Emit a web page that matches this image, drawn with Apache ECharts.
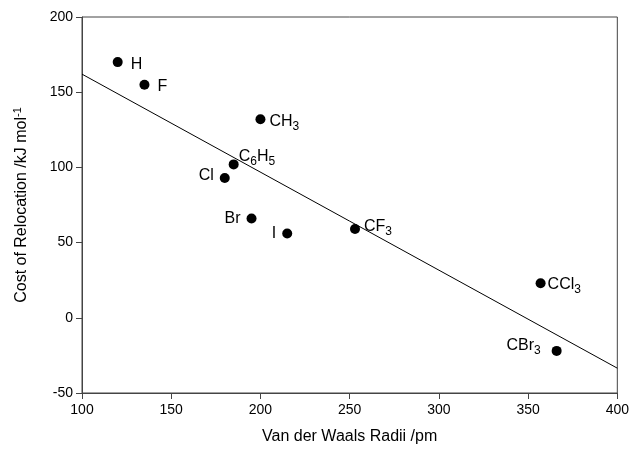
<!DOCTYPE html>
<html><head><meta charset="utf-8">
<script src="https://cdn.jsdelivr.net/npm/echarts@6/dist/echarts.min.js"></script>
<style>html,body{margin:0;padding:0;background:#fff}#c{width:632px;height:450px}</style>
</head><body><div id="c"></div>
<script>
var groups = ['H','F','CH3','C6H5','Cl','Br','I','CF3','CCl3','CBr3'];
var groupLabels = ['H','F','CH{s|3}','C{s|6}H{s|5}','Cl','Br','I','CF{s|3}','CCl{s|3}','CBr{s|3}'];
var radii = [120,135,200,185,180,195,215,253,357,366];
var costs = [170,155,132,102,93,66,56,59,23,-22];
var fitX = [100,400];
var fitY = [162,-33.5];
var xTicks = [100,150,200,250,300,350,400];
var yTicks = [-50,0,50,100,150,200];

var labelPos = {
  'H':['right',[3,2]], 'F':['right',[3,2]], 'CH3':['right',[-1,2]], 'C6H5':['right',[-5,-8]],
  'Cl':['left',[-1,-2]], 'Br':['left',[-1,0]], 'I':['left',[-1,0]], 'CF3':['right',[-1,-2]],
  'CCl3':['right',[-3,1]], 'CBr3':['left',[-6,-5]]
};
var font = 'Liberation Sans, Arial, sans-serif';
var rich = {s:{fontSize:12,fontFamily:font,color:'#000',padding:[10,0,0,0]}};
var data = groups.map(function(g,i){
  return {value:[radii[i],costs[i]], name:g,
    label:{show:true, position:labelPos[g][0], offset:labelPos[g][1],
      formatter:groupLabels[i], fontSize:16, fontFamily:font, color:'#000', rich:rich}};
});
var chart = echarts.init(document.getElementById('c'));
chart.setOption({
  animation:false,
  grid:{left:82,right:12,top:17,bottom:57,show:true,borderColor:'#444',borderWidth:1,backgroundColor:'transparent'},
  xAxis:{type:'value',min:xTicks[0],max:xTicks[xTicks.length-1],interval:50,
    name:'Van der Waals Radii /pm',nameLocation:'middle',nameGap:36,
    nameTextStyle:{fontSize:16,fontFamily:font,color:'#000'},
    axisLine:{onZero:false,lineStyle:{color:'#444'}},axisTick:{length:6,lineStyle:{color:'#444'}},
    axisLabel:{fontSize:14,fontFamily:font,color:'#000',margin:10},splitLine:{show:false}},
  yAxis:{type:'value',min:yTicks[0],max:yTicks[yTicks.length-1],interval:50,
    name:'Cost of Relocation /kJ mol{sup|-1}',nameLocation:'middle',nameGap:51,
    nameTextStyle:{fontSize:16,fontFamily:font,color:'#000',
      rich:{sup:{fontSize:11,fontFamily:font,color:'#000',padding:[0,0,8,0]}}},
    axisLine:{onZero:false,lineStyle:{color:'#444'}},axisTick:{length:6,lineStyle:{color:'#444'}},
    axisLabel:{fontSize:14,fontFamily:font,color:'#000',margin:9},splitLine:{show:false}},
  series:[
    {type:'line',data:fitX.map(function(x,i){return [x,fitY[i]];}),showSymbol:false,
      lineStyle:{color:'#000',width:1},z:1},
    {type:'scatter',data:data,symbolSize:10,itemStyle:{color:'#000',opacity:1},z:2}
  ]
});
</script></body></html>
